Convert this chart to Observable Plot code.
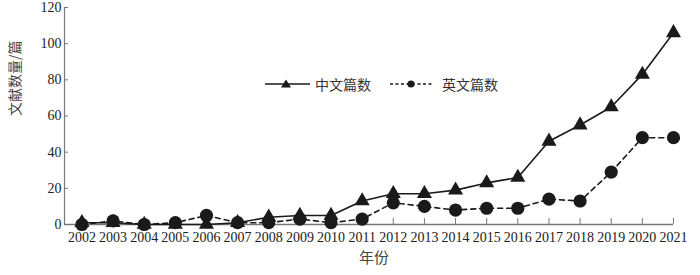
<!DOCTYPE html>
<html>
<head>
<meta charset="utf-8">
<script src="https://cdn.jsdelivr.net/npm/d3@7"></script>
<script src="https://cdn.jsdelivr.net/npm/@observablehq/plot@0.6"></script>
<style>
  body { margin: 0; background: #fff; }
  #wrap { position: relative; width: 700px; height: 275px; }
  #legend { position: absolute; left: 265px; top: 74px; display: flex; align-items: center;
    font-family: "Liberation Serif", "Noto Sans CJK SC", serif; font-size: 14px; color: #333; }
  #legend span { display: inline-block; }
</style>
</head>
<body>
<div id="wrap"></div>
<script>
const years = [2002,2003,2004,2005,2006,2007,2008,2009,2010,2011,2012,2013,2014,2015,2016,2017,2018,2019,2020,2021];
const chinese = [1,1,0,0,0,1,4,5,5,13,17,17,19,23,26,46,55,65,83,106];
const english = [0,2,0,1,5,1,1,3,1,3,12,10,8,9,9,14,13,29,48,48];
const yTicks = [0,20,40,60,80,100,120];
const seriesNames = ["中文篇数", "英文篇数"];
const xLabel = "年份";
const yLabel = "文献数量/篇";

const cn = years.map((y, i) => ({year: y, value: chinese[i]}));
const en = years.map((y, i) => ({year: y, value: english[i]}));
const xStart = 2001.44;
const ink = "#1a1a1a";
const axisGrey = "#777";

const chart = Plot.plot({
  width: 700,
  height: 275,
  marginLeft: 64,
  marginRight: 27,
  marginTop: 7,
  marginBottom: 51,
  style: {fontFamily: "Liberation Serif, 'Noto Sans CJK SC', serif", fontSize: "14px", color: "#222", background: "#fff"},
  x: {type: "linear", domain: [xStart, 2021]},
  y: {domain: [0, 120]},
  marks: [
    Plot.ruleX([xStart], {stroke: axisGrey, strokeWidth: 1.2}),
    Plot.ruleY([0], {x1: xStart, x2: 2021, stroke: axisGrey, strokeWidth: 1.5}),
    Plot.axisY({ticks: yTicks, tickSize: 4, dx: 4, tickPadding: 3, label: null, stroke: axisGrey, fontSize: 14}),
    Plot.axisX({ticks: years, tickFormat: d => String(d), tickSize: 6, dy: -6, tickPadding: 8, label: null, stroke: axisGrey, fontSize: 14}),
    Plot.text([yLabel], {frameAnchor: "left", dx: -49, rotate: -90, fontSize: 14, fill: "#444", fontFamily: "'Noto Sans CJK SC', sans-serif"}),
    Plot.text([xLabel], {frameAnchor: "bottom", dx: 5, dy: 38, fontSize: 15, fill: "#444", fontFamily: "'Noto Sans CJK SC', sans-serif"}),
    Plot.line(cn, {x: "year", y: "value", stroke: ink, strokeWidth: 1.6}),
    Plot.dot(cn, {x: "year", y: "value", symbol: "triangle", r: 5.6, fill: ink, stroke: "none"}),
    Plot.line(en, {x: "year", y: "value", stroke: ink, strokeWidth: 1.6, strokeDasharray: "5,4"}),
    Plot.dot(en, {x: "year", y: "value", symbol: "circle", r: 6.6, fill: ink, stroke: "none"})
  ]
});
const wrap = document.getElementById("wrap");
wrap.appendChild(chart);

const legend = document.createElement("div");
legend.id = "legend";
legend.innerHTML =
  `<svg width="45" height="16"><line x1="0" y1="8" x2="45" y2="8" stroke="${ink}" stroke-width="1.3"/>` +
  `<path d="M21,3.5 L26,11.5 L16,11.5 Z" fill="${ink}"/></svg>` +
  `<span style="margin-left:5px">${seriesNames[0]}</span>` +
  `<svg width="42" height="16" style="margin-left:19px"><line x1="0" y1="8" x2="42" y2="8" stroke="${ink}" stroke-width="1.3" stroke-dasharray="3,2.5"/>` +
  `<circle cx="21" cy="8" r="3.6" fill="${ink}"/></svg>` +
  `<span style="margin-left:10px">${seriesNames[1]}</span>`;
wrap.appendChild(legend);
</script>
</body>
</html>
